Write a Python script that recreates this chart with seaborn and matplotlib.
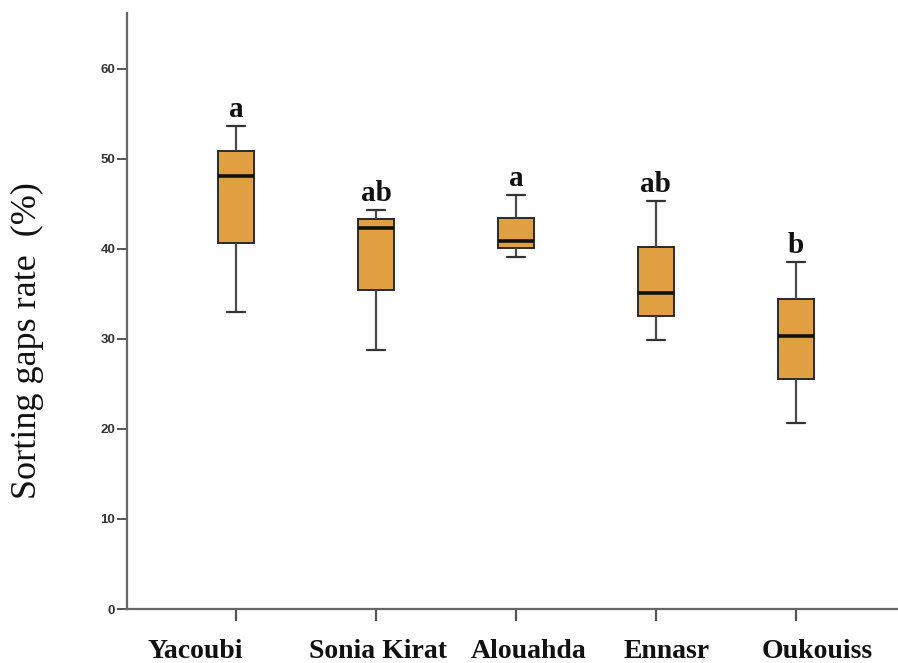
import numpy as np
import pandas as pd
import seaborn as sns
import matplotlib.pyplot as plt
from matplotlib.transforms import ScaledTranslation

# five-number summaries (min, Q1, median, Q3, max)
sites = ["Yacoubi", "Sonia Kirat", "Alouahda", "Ennasr", "Oukouiss"]
yacoubi = [33.0, 40.6, 48.1, 50.9, 53.6]
sonia_kirat = [28.8, 35.4, 42.3, 43.3, 44.3]
alouahda = [39.1, 40.1, 40.9, 43.4, 46.0]
ennasr = [29.9, 32.5, 35.1, 40.2, 45.3]
oukouiss = [20.7, 25.5, 30.3, 34.4, 38.5]
groups = ["a", "ab", "a", "ab", "b"]

values = [yacoubi, sonia_kirat, alouahda, ennasr, oukouiss]
df = pd.DataFrame({
    "site": np.repeat(sites, [len(v) for v in values]),
    "rate": np.concatenate(values),
})

sns.set_style("ticks")
fig = plt.figure(figsize=(8.98, 6.63), dpi=100)
ax = fig.add_axes([0.1414, 0.0814, 0.8586, 0.899])

sns.boxplot(data=df, x="site", y="rate", order=sites, ax=ax,
            width=0.26, color="#E0A041", saturation=1, whis=1.5,
            linecolor="#2a2a2a", linewidth=1.4,
            medianprops=dict(color="#111111", linewidth=2.6),
            whiskerprops=dict(color="#4a4a4a", linewidth=1.6),
            capprops=dict(color="#333333", linewidth=1.6))

# significance letters just above the top whisker
for i, (v, g) in enumerate(zip(values, groups)):
    ax.text(i, max(v) + 1.0, g, ha="center", va="baseline",
            fontsize=21, fontweight="bold", family="Liberation Serif", color="#111111")

ax.set_xlim(-0.78, 4.73)
ax.set_ylim(0, 66.2)
ax.set_yticks(range(0, 61, 10))

for s in ["top", "right"]:
    ax.spines[s].set_visible(False)
for s in ["left", "bottom"]:
    ax.spines[s].set_color("#666666")
    ax.spines[s].set_linewidth(1.6)

ax.tick_params(axis="y", length=7, width=1.4, color="#555555", pad=1.5,
               labelsize=9.5, labelcolor="#333333")
ax.tick_params(axis="x", length=8.5, width=1.6, color="#555555", pad=13)
for lab in ax.get_yticklabels():
    lab.set_fontweight("bold")
    lab.set_family("Liberation Sans")

# the site names in the original sit a little off their ticks
label_shift_px = [-41, 2, 13, 11, 21]
for lab, dx in zip(ax.get_xticklabels(), label_shift_px):
    lab.set_fontweight("bold")
    lab.set_family("Liberation Serif")
    lab.set_fontsize(20)
    lab.set_color("#111111")
    lab.set_transform(lab.get_transform() + ScaledTranslation(dx / 100, 0, fig.dpi_scale_trans))

ax.set_xlabel("")
ax.set_ylabel("Sorting gaps rate  (%)", family="Liberation Serif", fontsize=26, color="#111111")
ax.yaxis.set_label_coords(-0.108, 0.451)

plt.savefig("out.png", dpi=100)
plt.close()
